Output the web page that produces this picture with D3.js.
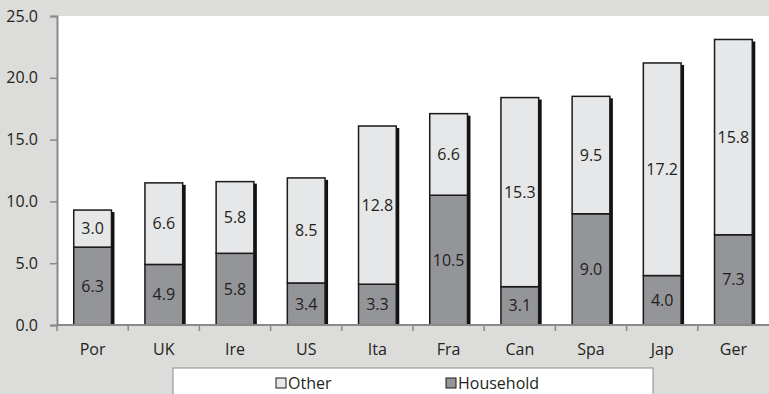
<!DOCTYPE html>
<html>
<head>
<meta charset="utf-8">
<script src="https://cdn.jsdelivr.net/npm/d3@7"></script>
<style>
  html, body { margin: 0; padding: 0; background: #dcdcdb; }
  svg { display: block; font-family: "Open Sans", "Noto Sans", sans-serif; }
</style>
</head>
<body>
<svg id="chart" width="769" height="394"></svg>
<script>
// Data
var categories = ["Por", "UK", "Ire", "US", "Ita", "Fra", "Can", "Spa", "Jap", "Ger"];
var household = [6.3, 4.9, 5.8, 3.4, 3.3, 10.5, 3.1, 9.0, 4.0, 7.3];
var other = [3.0, 6.6, 5.8, 8.5, 12.8, 6.6, 15.3, 9.5, 17.2, 15.8];
var yTicks = [0, 5, 10, 15, 20, 25];
var seriesNames = ["Other", "Household"];

// Dimensions
var width = 769;
var height = 394;
var margin = { left: 57, right: 0, top: 16, bottom: 69 };
var innerW = width - margin.left - margin.right;
var innerH = height - margin.top - margin.bottom;
var fontSize = 16;

var colors = { Other: "#e6e7e8", Household: "#939598" };

var svg = d3.select("#chart");

svg.append("rect")
  .attr("width", width)
  .attr("height", height)
  .attr("fill", "#dcdcdb");

var g = svg.append("g")
  .attr("transform", "translate(" + margin.left + "," + margin.top + ")");

g.append("rect")
  .attr("width", innerW)
  .attr("height", innerH)
  .attr("fill", "#ffffff");

var x = d3.scaleBand()
  .domain(categories)
  .range([0, innerW])
  .paddingInner(0.47)
  .paddingOuter(0.235);

var xTicks = d3.scaleBand().domain(categories).range([0, innerW]);

var y = d3.scaleLinear()
  .domain([0, 25])
  .range([innerH, 0]);

var rows = categories.map(function(c, i) {
  return { cat: c, Household: household[i], Other: other[i] };
});

var stack = d3.stack().keys(["Household", "Other"]);
var layers = stack(rows);

// shadows
g.selectAll("rect.shadow")
  .data(rows)
  .enter()
  .append("rect")
  .attr("class", "shadow")
  .attr("x", function(d) { return x(d.cat) + 3; })
  .attr("y", function(d) { return y(d.Household + d.Other) + 2; })
  .attr("width", x.bandwidth())
  .attr("height", function(d) { return innerH - y(d.Household + d.Other) - 2; })
  .attr("fill", "#111");

var layer = g.selectAll("g.layer")
  .data(layers)
  .enter()
  .append("g")
  .attr("class", "layer");

layer.selectAll("rect")
  .data(function(d) { return d.map(function(p) { return { key: d.key, p: p }; }); })
  .enter()
  .append("rect")
  .attr("x", function(d) { return x(d.p.data.cat); })
  .attr("y", function(d) { return y(d.p[1]); })
  .attr("width", x.bandwidth())
  .attr("height", function(d) { return y(d.p[0]) - y(d.p[1]); })
  .attr("fill", function(d) { return colors[d.key]; })
  .attr("stroke", "#1a1a1a")
  .attr("stroke-width", 1.5);

layer.selectAll("text")
  .data(function(d) { return d.map(function(p) { return { key: d.key, p: p }; }); })
  .enter()
  .append("text")
  .attr("x", function(d) { return x(d.p.data.cat) + x.bandwidth() / 2; })
  .attr("y", function(d) { return (y(d.p[0]) + y(d.p[1])) / 2; })
  .attr("dy", "0.35em")
  .attr("text-anchor", "middle")
  .attr("font-size", fontSize)
  .attr("fill", "#231f20")
  .text(function(d) { return (d.p[1] - d.p[0]).toFixed(1); });

// Y axis
var yAxis = g.append("g")
  .call(d3.axisLeft(y).tickValues(yTicks).tickSize(7).tickPadding(12)
    .tickFormat(function(d) { return d.toFixed(1); }));
yAxis.select(".domain").attr("stroke", "#8a8a8a").attr("stroke-width", 2);
yAxis.selectAll(".tick line").attr("stroke", "#8a8a8a").attr("stroke-width", 1.5);
yAxis.selectAll(".tick text")
  .attr("font-size", fontSize)
  .attr("fill", "#231f20")
  .attr("font-family", "'Open Sans', 'Noto Sans', sans-serif");

// X axis
var xg = g.append("g").attr("transform", "translate(0," + innerH + ")");
xg.append("line")
  .attr("x1", 0).attr("x2", innerW)
  .attr("stroke", "#8a8a8a").attr("stroke-width", 2);
xg.selectAll("line.tick")
  .data(categories)
  .enter()
  .append("line")
  .attr("class", "tick")
  .attr("x1", function(d) { return xTicks(d); })
  .attr("x2", function(d) { return xTicks(d); })
  .attr("y1", 0).attr("y2", 6)
  .attr("stroke", "#8a8a8a").attr("stroke-width", 1.5);
xg.selectAll("text")
  .data(categories)
  .enter()
  .append("text")
  .attr("x", function(d) { return x(d) + x.bandwidth() / 2; })
  .attr("y", 24)
  .attr("dy", "0.35em")
  .attr("text-anchor", "middle")
  .attr("font-size", fontSize)
  .attr("fill", "#231f20")
  .text(function(d) { return d; });

// Legend
var legend = svg.append("g").attr("transform", "translate(173,368)");
legend.append("rect")
  .attr("width", 480)
  .attr("height", 30)
  .attr("fill", "#ffffff")
  .attr("stroke", "#8a8a8a")
  .attr("stroke-width", 1);

var legendX = [103, 273];
var items = legend.selectAll("g.item")
  .data(seriesNames)
  .enter()
  .append("g")
  .attr("class", "item")
  .attr("transform", function(d, i) { return "translate(" + legendX[i] + ",15)"; });
items.append("rect")
  .attr("x", 0).attr("y", -5)
  .attr("width", 10).attr("height", 10)
  .attr("fill", function(d) { return colors[d]; })
  .attr("stroke", "#1a1a1a")
  .attr("stroke-width", 1);
items.append("text")
  .attr("x", 12)
  .attr("dy", "0.35em")
  .attr("font-size", fontSize)
  .attr("fill", "#231f20")
  .text(function(d) { return d; });
</script>
</body>
</html>
